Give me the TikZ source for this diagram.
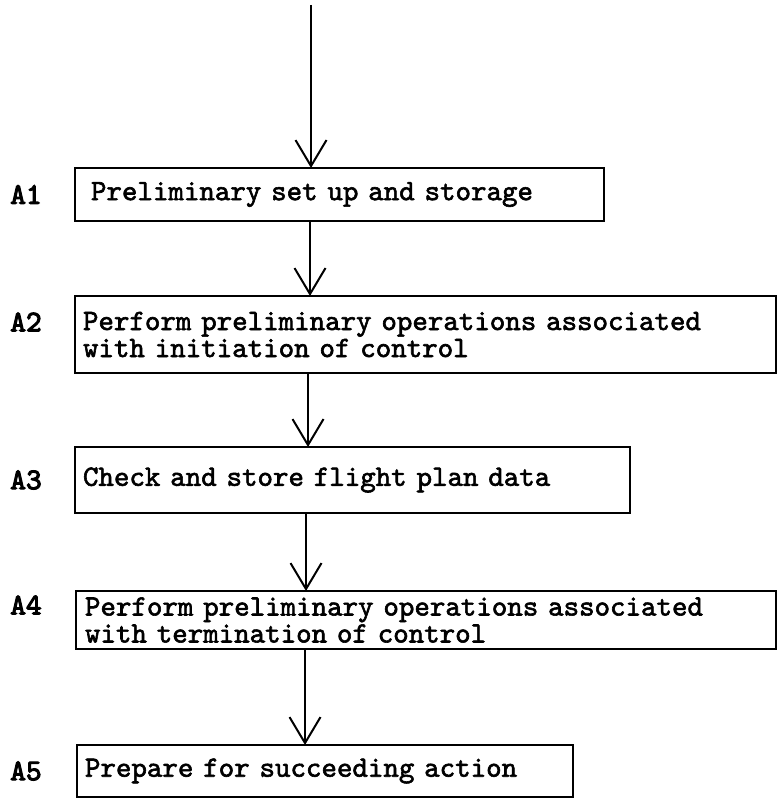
\documentclass[tikz,border=0pt]{standalone}
\usepackage{fontspec}
\usetikzlibrary{arrows.meta}
% typewriter faces: body text and the heavier step tags
\newfontfamily\typer{lmmono10-regular}[Extension=.otf, FakeBold=2]
\newfontfamily\tagfont{lmmono10-regular}[Extension=.otf, FakeBold=3.5]

\begin{document}
\begin{tikzpicture}[x=1pt,y=-1pt,
  stepbox/.style={draw, line width=1.7pt, rectangle, anchor=north west,
    align=left, inner ysep=0pt, outer sep=0pt,
    font=\typer\fontsize{29.5}{27}\selectfont},
  tag/.style={font=\tagfont\fontsize{30}{30}\selectfont, anchor=west, inner sep=0pt},
  flow/.style={line width=1.7pt, -{Straight Barb[length=26pt,width=31pt,line width=2pt]}}
]
\useasboundingbox[fill=white] (0,0) rectangle (777,799);

% process boxes
\node[stepbox, text width=497pt, inner xsep=16pt, minimum height=53pt] (a1) at (75,168)
  {Preliminary set up and storage};
\node[stepbox, text width=685pt, inner xsep=8pt, minimum height=77pt] (a2) at (75,296)
  {Perform preliminary operations associated\\with initiation of control};
\node[stepbox, text width=539pt, inner xsep=8pt, minimum height=66pt] (a3) at (75,447)
  {Check and store flight plan data};
\node[stepbox, text width=682pt, inner xsep=9pt, minimum height=58pt] (a4) at (76,591)
  {Perform preliminary operations associated\\with termination of control};
\node[stepbox, text width=480pt, inner xsep=8pt, minimum height=52pt] (a5) at (77,745)
  {Prepare for succeeding action};

% step labels
\coordinate (lx) at (10,0);
\node[tag] (l1) at (a1.west -| lx) {A1};
\node[tag] (l2) at (10,322) {A2};
\node[tag] (l3) at (a3.west -| lx) {A3};
\node[tag] (l4) at (10,605) {A4};
\node[tag] (l5) at (a5.west -| lx) {A5};

% connector columns
\coordinate (start) at (311,5);
\coordinate (c1) at (310,0);
\coordinate (c2) at (308,0);
\coordinate (c3) at (306,0);
\coordinate (c4) at (305,0);

\draw[flow] (start) -- (start |- a1.north);
\draw[flow] (a1.south -| c1) -- (a2.north -| c1);
\draw[flow] (a2.south -| c2) -- (a3.north -| c2);
\draw[flow] (a3.south -| c3) -- (a4.north -| c3);
\draw[flow] (a4.south -| c4) -- (a5.north -| c4);
\end{tikzpicture}
\end{document}
